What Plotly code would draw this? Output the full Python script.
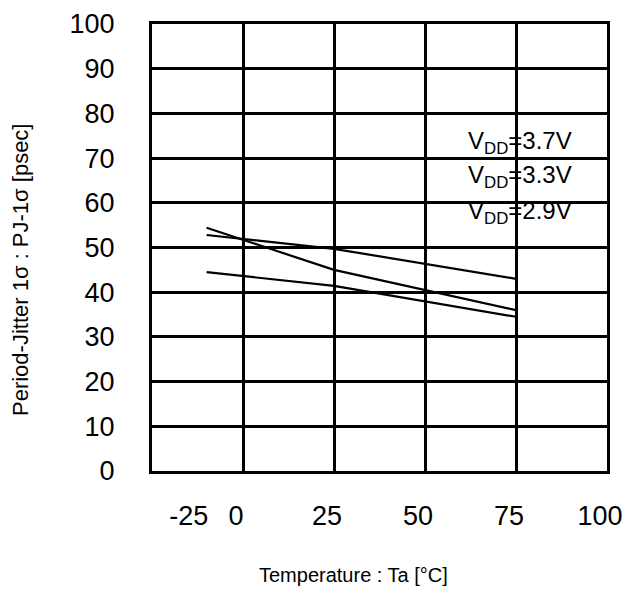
import plotly.graph_objects as go

temps = [-10, 25, 75]
pj_a = [54.4, 45.0, 36.0]
pj_b = [52.8, 49.7, 43.0]
pj_c = [44.5, 41.4, 34.5]
series_names = ["VDD=3.7V", "VDD=3.3V", "VDD=2.9V"]

x_ticks = [-25, 0, 25, 50, 75, 100]
x_label_vals = [-13, 0, 25, 50, 75, 100]
x_label_text = ["-25", "0", "25", "50", "75", "100"]
y_ticks = list(range(0, 101, 10))

labels = ["V<sub>DD</sub>=3.7V", "V<sub>DD</sub>=3.3V", "V<sub>DD</sub>=2.9V"]
label_x = [76, 76, 76]
label_y = [73.6, 65.8, 57.9]

FONT = "Liberation Sans, Arial, sans-serif"

W, H = 622, 581
ML, MR, MT, MB = 144, 23, 16, 118
PW = W - ML - MR
PH = H - MT - MB

fig = go.Figure()
for ys, nm in zip([pj_a, pj_b, pj_c], series_names):
    fig.add_trace(go.Scatter(x=temps, y=ys, mode="lines", name=nm,
                             line=dict(color="black", width=2.2), showlegend=False))
# dummy trace for label axis
fig.add_trace(go.Scatter(x=[None], y=[None], xaxis="x2", showlegend=False))

for t, xx, yy in zip(labels, label_x, label_y):
    fig.add_annotation(x=xx, y=yy, text=t, showarrow=False, xanchor="center", yanchor="middle",
                       font=dict(family=FONT, size=24, color="black"))

# axis titles (positioned as in the reference)
fig.add_annotation(x=(12 - ML) / PW, y=(H - MB - 262) / PH, xref="paper", yref="paper",
                   text="Period-Jitter 1σ : PJ-1σ [psec]",
                   xanchor="center", yanchor="middle", showarrow=False, textangle=-90,
                   font=dict(size=22, family=FONT, color="black"))
fig.add_annotation(x=(345 - ML) / PW, y=-(567 - (H - MB)) / PH, xref="paper", yref="paper",
                   text="Temperature : Ta [°C]",
                   xanchor="center", yanchor="middle", showarrow=False,
                   font=dict(size=20, family=FONT, color="black"))

fig.update_layout(
    width=W, height=H,
    margin=dict(l=ML, r=MR, t=MT, b=MB),
    paper_bgcolor="white", plot_bgcolor="white",
    font=dict(family=FONT, color="black"),
    xaxis=dict(range=[-25, 100], tickvals=x_ticks, showticklabels=False,
               showgrid=True, gridcolor="black", gridwidth=2.5,
               showline=True, linecolor="black", linewidth=3, mirror=True,
               zeroline=False, ticks="", automargin=False),
    xaxis2=dict(range=[-25, 100], overlaying="x", side="bottom", anchor="y",
                tickvals=x_label_vals, ticktext=x_label_text, showgrid=False,
                zeroline=False, showline=False, ticks="", automargin=False,
                ticklabelshift=-7, ticklabelstandoff=26,
                tickfont=dict(size=27, family=FONT, color="black")),
    yaxis=dict(range=[0, 100], tickvals=y_ticks,
               showgrid=True, gridcolor="black", gridwidth=2.5,
               showline=True, linecolor="black", linewidth=3, mirror=True,
               zeroline=False, ticks="", ticklabelstandoff=29, automargin=False,
               tickfont=dict(size=27, family=FONT, color="black")),
)

fig.write_html("out.html")
